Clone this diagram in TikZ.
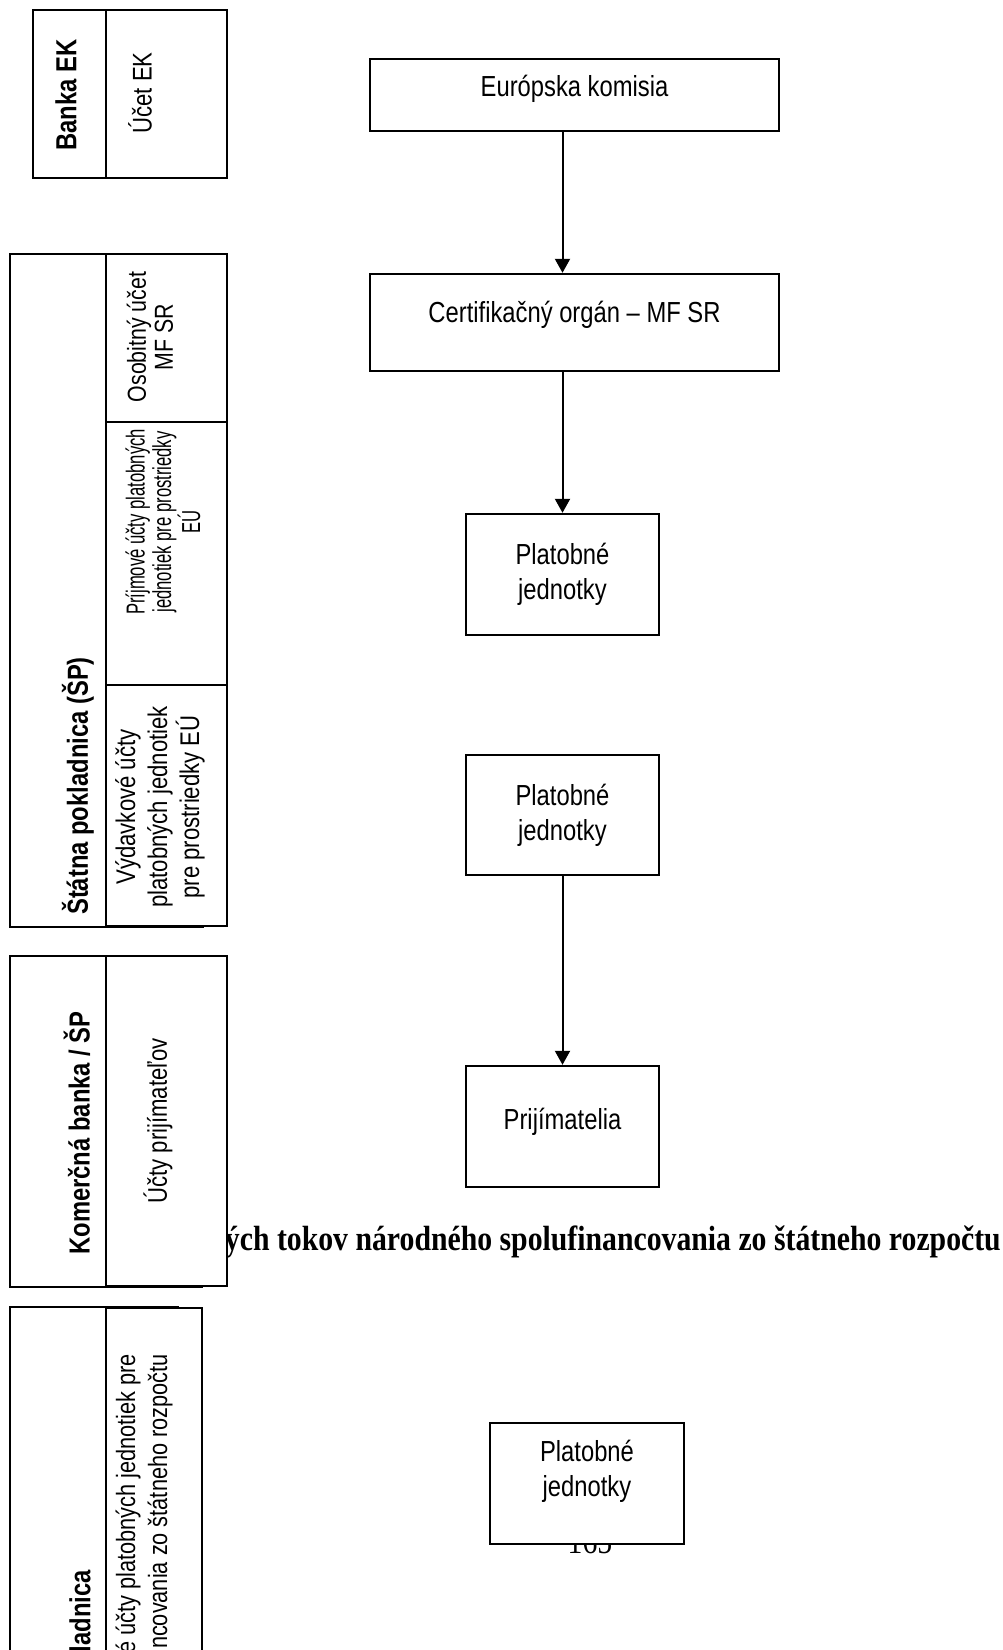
\documentclass[tikz,border=0pt]{standalone}
\usepackage{fontspec}
\setmainfont{Liberation Sans}[FakeStretch=0.82]
\newfontfamily\narrowfont{Liberation Sans}[FakeStretch=0.64]
\newfontfamily\capfont{Liberation Serif}[FakeStretch=0.85]
\usetikzlibrary{arrows.meta}

\begin{document}
\begin{tikzpicture}[x=1pt, y=-1pt,
  cell/.style={draw, line width=2.4pt, fill=white},
  flowbox/.style={draw, line width=2.4pt, fill=white, align=center, inner sep=0pt, font=\fontsize{29}{35}\selectfont},
  banklabel/.style={rotate=90, font=\bfseries\fontsize{29}{31}\selectfont},
  acctext/.style={rotate=90, align=center, font=\fontsize{27}{32}\selectfont},
  >={Triangle[length=14pt, width=15pt]}]
\useasboundingbox (0,0) rectangle (1002,1650);
% Caption and page number, partly covered by the boxes
\node[anchor=base east, inner sep=0pt, font=\capfont\bfseries\fontsize{35}{40}\selectfont] (caption) at (1001,1250) {ných tokov národného spolufinancovania zo štátneho rozpočtu};
\node[inner sep=0pt, font=\capfont\fontsize{35}{40}\selectfont] (pagenum) at (590,1542) {165};
% Draw bank EK
\draw[cell] (33,10) rectangle (227,178);
\draw[cell] (106,10) rectangle (227,178);
\node[banklabel] (bankaek) at (66,95) {Banka EK};
\node[acctext] (ucetek) at (140,93) {Účet EK};
% Draw state treasury
\draw[cell] (10,254) rectangle (203,927);
\draw[cell] (106,254) rectangle (227,422);
\draw[cell] (106,422) rectangle (227,685);
\draw[cell] (106,685) rectangle (227,926);
\node[banklabel] (sp) at (78,786) {Štátna pokladnica (ŠP)};
\node[acctext, font=\fontsize{26}{27}\selectfont] (osobitny) at (150,337) {Osobitný účet\\MF SR};
\node[acctext, font=\narrowfont\fontsize{26}{26.5}\selectfont] (prijmove) at (163,522) {Príjmové účty platobných\\jednotiek pre prostriedky\\EÚ};
\node[acctext] (vydavkove) at (160,807) {Výdavkové účty\\platobných jednotiek\\pre prostriedky EÚ};
% Draw commercial bank
\draw[cell] (10,956) rectangle (202,1287);
\draw[cell] (106,956) rectangle (227,1286);
\node[banklabel] (kb) at (77,1133) {Komerčná banka / ŠP};
\node[acctext] (ucty) at (158,1121) {Účty prijímateľov};
% Draw second state treasury, cut at the bottom
\draw[cell] (10,1307) rectangle (178,1680);
\draw[cell] (106,1308) rectangle (202,1680);
\node[banklabel, anchor=east, inner sep=0pt] (sp2) at (80,1570) {ladnica};
\node[acctext, align=right, anchor=east, inner sep=0pt, font=\fontsize{26.5}{32}\selectfont] (spolufin) at (144,1354) {é účty platobných jednotiek pre\\ncovania zo štátneho rozpočtu};
% Draw flow boxes
\node[flowbox, minimum width=409pt, minimum height=72pt, text depth=18pt] (ek) at (574.5,95) {Európska komisia};
\node[flowbox, minimum width=409pt, minimum height=97pt, text depth=22pt] (co) at (574.5,322.5) {Certifikačný orgán -- MF SR};
\node[flowbox, minimum width=193pt, minimum height=121pt] (pj1) at (562.5,574.5) {Platobné\\jednotky};
\node[flowbox, minimum width=193pt, minimum height=120pt] (pj2) at (562.5,815) {Platobné\\jednotky};
\node[flowbox, minimum width=193pt, minimum height=121pt, text depth=16pt] (prij) at (562.5,1126.5) {Prijímatelia};
\node[flowbox, minimum width=194pt, minimum height=121pt, text depth=30pt] (pj3) at (587,1483.5) {Platobné\\jednotky};
% Draw arrows
\draw[->, line width=2pt] (ek.south -| pj1.center) -- (co.north -| pj1.center);
\draw[->, line width=2pt] (co.south -| pj1.center) -- (pj1.north);
\draw[->, line width=2pt] (pj2.south) -- (prij.north);
\end{tikzpicture}
\end{document}
